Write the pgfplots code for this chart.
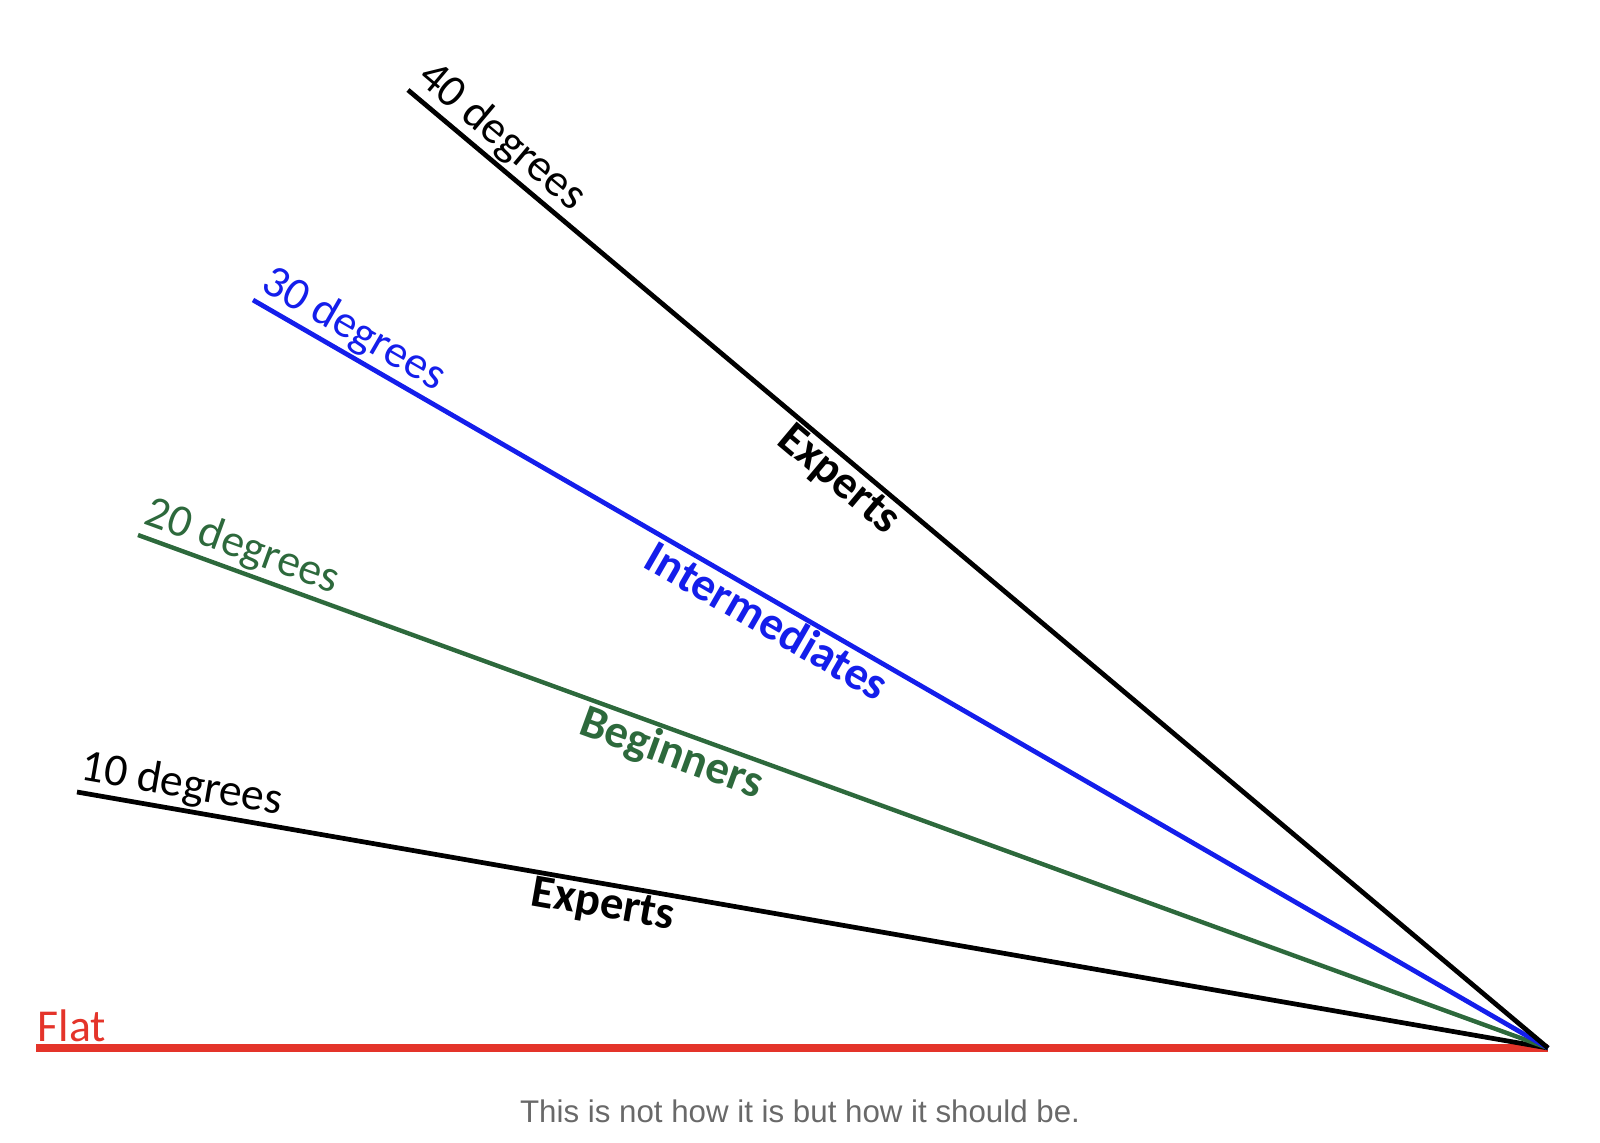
\documentclass[border=0pt]{standalone}
\usepackage{pgfplots}
\pgfplotsset{compat=1.18}
\usepackage{fontspec}
\setmainfont{Carlito}
\newfontfamily\capfont{Liberation Sans}

\definecolor{lblack}{RGB}{0,0,0}
\definecolor{lblue}{RGB}{20,30,235}
\definecolor{lgreen}{RGB}{45,105,60}
\definecolor{lred}{RGB}{228,52,42}
\definecolor{capgray}{RGB}{105,105,105}

\begin{document}
\begin{tikzpicture}[
  deg/.style={pos=0, anchor=south west, sloped, inner sep=0.6pt, xshift=-1.2pt,
              font=\fontsize{13}{15}\selectfont},
  grp/.style={anchor=north, sloped, inner sep=0.3pt,
              font=\fontsize{13.3}{15}\selectfont\bfseries},
]
\begin{axis}[
  width=16cm, height=11.42cm, scale only axis,
  xmin=0, xmax=1600, ymin=0, ymax=1142,
  hide axis, clip=false,
]
% keep the whole frame in the bounding box
\path (rel axis cs:0,0) (rel axis cs:1,1);

% Flat
\addplot[lred, line width=2.1pt, mark=none] coordinates {(36,94) (1548,94)}
  node[deg, text=lred] {Flat};

% 10 degrees
\addplot[lblack, line width=1.35pt, mark=none] coordinates {(77,350) (1548,94)}
  node[deg] {10 degrees}
  node[grp, pos=0.36] {Experts};

% 20 degrees
\addplot[lgreen, line width=1.25pt, mark=none] coordinates {(138,607) (1548,94)}
  node[deg, text=lgreen] {20 degrees}
  node[grp, pos=0.384, text=lgreen] {Beginners};

% 30 degrees
\addplot[lblue, line width=1.35pt, mark=none] coordinates {(253,842) (1548,94)}
  node[deg, text=lblue] {30 degrees}
  node[grp, pos=0.405, text=lblue] {Intermediates};

% 40 degrees
\addplot[lblack, line width=1.35pt, mark=none] coordinates {(408,1052) (1548,94)}
  node[deg] {40 degrees}
  node[grp, pos=0.39] {Experts};

\node[text=capgray, font=\capfont\fontsize{8.9}{10}\selectfont] at (axis cs:800,31)
  {This is not how it is but how it should be.};
\end{axis}
\end{tikzpicture}
\end{document}
